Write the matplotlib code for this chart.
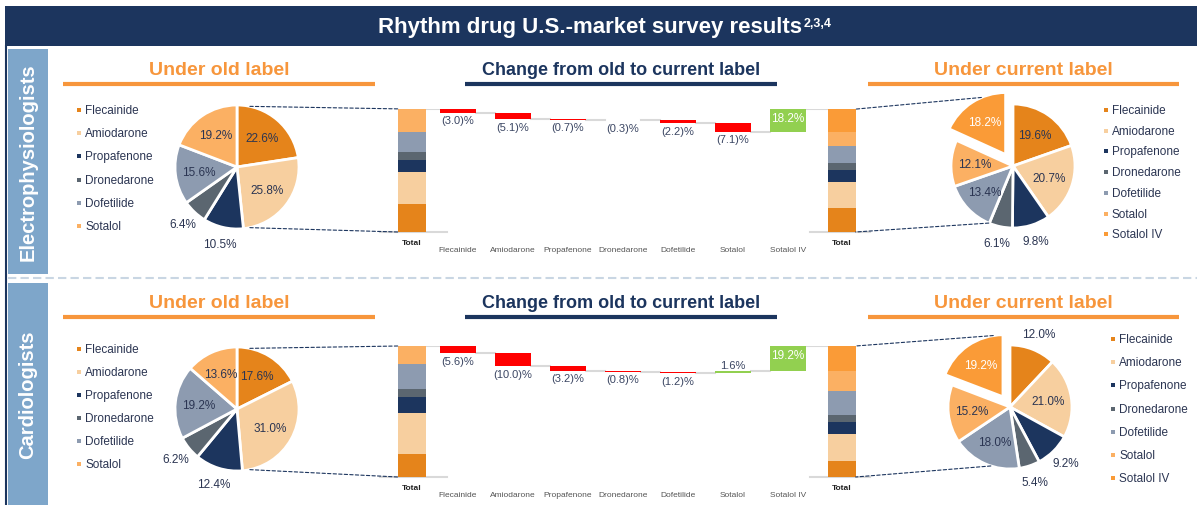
import matplotlib
matplotlib.use('Agg')
import matplotlib.pyplot as plt
from matplotlib.patches import Rectangle, ConnectionPatch
import numpy as np

plt.rcParams['font.family'] = ['Liberation Sans', 'DejaVu Sans']

# ---------------- data ----------------
drugs = ['Flecainide', 'Amiodarone', 'Propafenone', 'Dronedarone',
         'Dofetilide', 'Sotalol', 'Sotalol IV']
groups = ['Electrophysiologists', 'Cardiologists']

ep_old = [22.6, 25.8, 10.5, 6.4, 15.6, 19.2]
ep_cur = [19.6, 20.7, 9.8, 6.1, 13.4, 12.1, 18.2]
ep_change = [-3.0, -5.1, -0.7, -0.3, -2.2, -7.1, 18.2]

card_old = [17.6, 31.0, 12.4, 6.2, 19.2, 13.6]
card_cur = [12.0, 21.0, 9.2, 5.4, 18.0, 15.2, 19.2]
card_change = [-5.6, -10.0, -3.2, -0.8, -1.2, 1.6, 19.2]

# ---------------- style ----------------
colors = {'Flecainide': '#e5841b', 'Amiodarone': '#f7cf9f', 'Propafenone': '#1c355e',
          'Dronedarone': '#5b6670', 'Dofetilide': '#8d9bb0', 'Sotalol': '#fbb063',
          'Sotalol IV': '#fa9b37'}
NAVY = '#1c355e'
ORANGE = '#f7963c'
TXT = '#2b3552'
RED = '#ff0000'
GREEN = '#92d050'
GRAY = '#d9d9d9'

W, H = 1197, 506
fig = plt.figure(figsize=(W / 100, H / 100), dpi=100)
bg = fig.add_axes([0, 0, 1, 1])
bg.set_xlim(0, W)
bg.set_ylim(H, 0)
bg.axis('off')


def px_axes(x0, y0, x1, y1):
    return fig.add_axes([x0 / W, 1 - y1 / H, (x1 - x0) / W, (y1 - y0) / H])


def title(x0, x1, y, text, color, size):
    bg.text((x0 + x1) / 2, y, text, color=color, fontsize=size, fontweight='bold',
            ha='center', va='center')
    bg.plot([x0, x1], [y + 15, y + 15], color=color, lw=3, solid_capstyle='butt')


def legend(x, y, step, names):
    for i, n in enumerate(names):
        bg.plot(x, y + i * step, marker='s', ms=2.2, color=colors[n], mew=0)
        bg.text(x + 6, y + i * step, n, color=TXT, fontsize=8.5, va='center', ha='left')


def draw_pie(cx, cy, r, vals, names, explode=0.0):
    ax = px_axes(cx - 1.4 * r, cy - 1.4 * r, cx + 1.4 * r, cy + 1.4 * r)
    expl = [0.0] * len(vals)
    expl[-1] = explode
    wedges, _ = ax.pie(vals, colors=[colors[n] for n in names], startangle=90,
                       counterclock=False, explode=expl,
                       wedgeprops=dict(edgecolor='white', linewidth=2))
    ax.set_xlim(-1.4, 1.4)
    ax.set_ylim(-1.4, 1.4)
    ax.set_aspect('equal')
    for w, v, n in zip(wedges, vals, names):
        ang = np.deg2rad((w.theta1 + w.theta2) / 2)
        outside = n in ('Propafenone', 'Dronedarone') or v <= 12.0
        d = 1.27 if outside else 0.62
        ox, oy = w.center
        ax.text(ox + d * np.cos(ang), oy + d * np.sin(ang), f'{v:.1f}%',
                color='white' if n == 'Sotalol IV' else TXT,
                fontsize=8.5, ha='center', va='center')
    return ax, wedges


def draw_waterfall(ax, old, cur, chg, xlim):
    lt, rt = 0.16, len(chg) + 0.98
    tw, bw = 0.5, 0.67
    xs = np.arange(1, len(chg) + 1)
    bottom = 0
    for v, n in zip(old, drugs):
        ax.bar(lt, v, tw, bottom=bottom, color=colors[n], lw=0, zorder=2)
        bottom += v
    level = bottom
    edge = lt + tw / 2
    for x, d in zip(xs, chg):
        ax.plot([edge, x - bw / 2], [level, level], color=GRAY, lw=1.5, zorder=1)
        ax.bar(x, abs(d), bw, bottom=level + min(d, 0), color=RED if d < 0 else GREEN,
               lw=0, zorder=2)
        level += d
        edge = x + bw / 2
        if d < 0:
            ax.annotate(f'({abs(d):.1f})%', (x, level), xytext=(0, -2),
                        textcoords='offset points', ha='center', va='top',
                        color='#3b4663', fontsize=8)
        elif d > 5:
            ax.annotate(f'{d:.1f}%', (x, level), xytext=(0, -2),
                        textcoords='offset points', ha='center', va='top',
                        color='white', fontsize=8.5)
        else:
            ax.annotate(f'{d:.1f}%', (x, level), xytext=(0, 1),
                        textcoords='offset points', ha='center', va='bottom',
                        color='#3b4663', fontsize=8)
    ax.plot([edge, rt - tw / 2], [level, level], color=GRAY, lw=1.5, zorder=1)
    bottom = 0
    for v, n in zip(cur, drugs):
        ax.bar(rt, v, tw, bottom=bottom, color=colors[n], lw=0, zorder=2)
        bottom += v
    # baseline stubs
    ax.plot([xlim[0], 0.8], [0, 0], color=GRAY, lw=1.5, clip_on=False, zorder=1)
    ax.plot([7.4, xlim[1]], [0, 0], color=GRAY, lw=1.5, clip_on=False, zorder=1)
    # category labels
    for x, lab in [(lt, 'Total')] + list(zip(xs, drugs)) + [(rt, 'Total')]:
        bold = lab == 'Total'
        ax.annotate(lab, (x, 0), xytext=(0, -7.5 if bold else -12.5),
                    textcoords='offset points', ha='center', va='center',
                    fontsize=6, color='#222222' if bold else '#555555',
                    fontweight='bold' if bold else 'normal')
    ax.set_xlim(*xlim)
    ax.set_ylim(0, 100)
    ax.axis('off')
    return lt, rt, tw


def dash(axA, xyA, axB, xyB):
    con = ConnectionPatch(xyA=xyA, coordsA=axA.transData, xyB=xyB, coordsB=axB.transData,
                          color=NAVY, lw=0.8, ls=(0, (3, 2)), zorder=5)
    fig.add_artist(con)


# ---------------- frame ----------------
bg.add_patch(Rectangle((5, 7), W - 5, 40, color=NAVY, lw=0))
t = bg.text(590, 27, 'Rhythm drug U.S.-market survey results', color='white',
            fontsize=16, fontweight='bold', ha='center', va='center',
            family=['Liberation Sans Narrow', 'Liberation Sans', 'DejaVu Sans'])
bg.annotate('2,3,4', xy=(1, 1), xycoords=t, xytext=(1, -1), textcoords='offset points',
            ha='left', va='top', color='white', fontsize=9, fontweight='bold',
            family=['Liberation Sans Narrow', 'Liberation Sans', 'DejaVu Sans'])
bg.plot([6, 6], [47, H], color=NAVY, lw=1.5)
bg.plot([8, W], [279, 279], color='#c9d6e3', lw=1.5, ls=(0, (4, 2)))

rows = [
    dict(old=ep_old, cur=ep_cur, chg=ep_change, side=(50, 275), ty=70,
         pie_old=(237, 168, 62), pie_cur=(1013, 167, 62), explode=0.22,
         wf=(110, 233), leg_old=(79, 111, 23.2), leg_cur=(1106, 111, 20.7),
         cur_top=113, cur_bot=-113),
    dict(old=card_old, cur=card_cur, chg=card_change, side=(284, H), ty=303,
         pie_old=(237, 410, 62), pie_cur=(1010, 408, 62), explode=0.2,
         wf=(347, 478), leg_old=(79, 350, 23.0), leg_cur=(1113, 340, 23.2),
         cur_top=99, cur_bot=-108),
]

for g, row in zip(groups, rows):
    y0, y1 = row['side']
    bg.add_patch(Rectangle((8, y0), 40, y1 - y0, color='#7ea6ca', lw=0))
    bg.text(28, (y0 + y1) / 2, g, rotation=90, color='white', fontsize=14.5,
            fontweight='bold', ha='center', va='center')

    ty = row['ty']
    title(63, 375, ty, 'Under old label', ORANGE, 14)
    title(465, 777, ty, 'Change from old to current label', NAVY, 13)
    title(868, 1179, ty, 'Under current label', ORANGE, 14)

    legend(*row['leg_old'], drugs[:6])
    legend(*row['leg_cur'], drugs)

    cx, cy, r = row['pie_old']
    ax_old, _ = draw_pie(cx, cy, r, row['old'], drugs[:6])
    cx, cy, r = row['pie_cur']
    ax_cur, wed = draw_pie(cx, cy, r, row['cur'], drugs, row['explode'])

    top, bot = row['wf']
    x0p, x1p = 380, 870
    xlim = ((x0p - 458) / 55 + 1, (x1p - 458) / 55 + 1)
    ax_wf = px_axes(x0p, top, x1p, bot)
    lt, rt, tw = draw_waterfall(ax_wf, row['old'], row['cur'], row['chg'], xlim)

    a = np.deg2rad(78)
    dash(ax_old, (np.cos(a), np.sin(a)), ax_wf, (lt - tw / 2, sum(row['old'])))
    dash(ax_old, (np.cos(a), -np.sin(a)), ax_wf, (lt - tw / 2, 0))
    ex, ey = wed[-1].center
    a = np.deg2rad(row['cur_top'])
    dash(ax_cur, (ex + np.cos(a), ey + np.sin(a)), ax_wf, (rt + tw / 2, sum(row['cur'])))
    a = np.deg2rad(row['cur_bot'])
    dash(ax_cur, (np.cos(a), np.sin(a)), ax_wf, (rt + tw / 2, 0))

fig.savefig('out.png', dpi=100)
